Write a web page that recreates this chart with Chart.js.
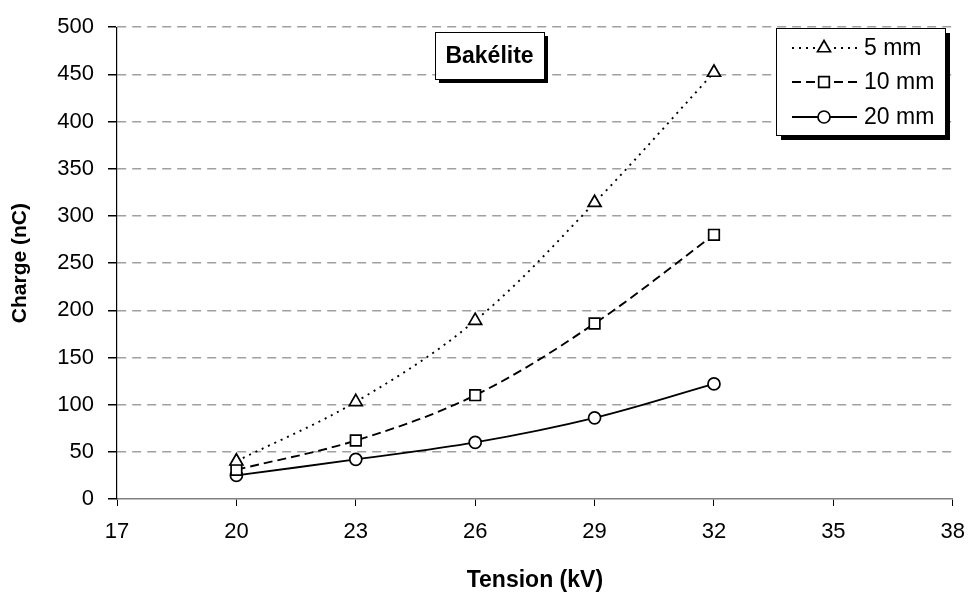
<!DOCTYPE html>
<html>
<head>
<meta charset="utf-8">
<script src="https://cdn.jsdelivr.net/npm/chart.js@4/dist/chart.umd.min.js"></script>
<style>
  html, body { margin: 0; padding: 0; background: #fff; }
  #wrap { width: 978px; height: 594px; }
</style>
</head>
<body>
<div id="wrap"><canvas id="lineChart" width="978" height="594"></canvas></div>
<script>
// data
var tension = [20, 23, 26, 29, 32];
var charge5 = [40, 103, 189, 314, 452];
var charge10 = [31, 62, 110, 186, 280];
var charge20 = [25, 42, 60, 86, 122];
var seriesNames = ["5 mm", "10 mm", "20 mm"];
var xTicks = [17, 20, 23, 26, 29, 32, 35, 38];
var yTicks = [0, 50, 100, 150, 200, 250, 300, 350, 400, 450, 500];

var FONT = "'Liberation Sans', Arial, sans-serif";

function pairs(ys) {
    return tension.map(function (x, i) { return { x: x, y: ys[i] }; });
}

function makeSet(label, ys, dash, style, radius) {
    return {
        label: label,
        data: pairs(ys),
        borderColor: "#000",
        borderWidth: 1.9,
        borderDash: dash,
        tension: 0.35,
        pointStyle: style,
        pointRadius: radius,
        pointHoverRadius: radius,
        pointBorderWidth: 1.7,
        pointBorderColor: "#000",
        pointBackgroundColor: "#fff",
        fill: false
    };
}

// boxes drawn on top: the "Bakélite" label and the legend
var boxesPlugin = {
    id: "boxes",
    afterDraw: function (chart) {
        var ctx = chart.ctx;
        ctx.save();

        function shadowBox(x1, y1, x2, y2, off) {
            ctx.fillStyle = "#000";
            ctx.fillRect(x1 + off, y1 + off, x2 - x1, y2 - y1);
            ctx.fillStyle = "#fff";
            ctx.fillRect(x1, y1, x2 - x1, y2 - y1);
            ctx.lineWidth = 1;
            ctx.strokeStyle = "#000";
            ctx.strokeRect(x1 + 0.5, y1 + 0.5, x2 - x1, y2 - y1);
        }

        // title box
        shadowBox(435, 32, 544, 79, 4);
        ctx.fillStyle = "#000";
        ctx.font = "bold 23px " + FONT;
        ctx.textAlign = "center";
        ctx.textBaseline = "middle";
        ctx.fillText("Bakélite", 489.5, 57);

        // legend box
        shadowBox(776, 28, 945, 135, 5);
        var rows = [48, 82, 117];
        chart.data.datasets.forEach(function (ds, i) {
            var y = rows[i];
            ctx.strokeStyle = "#000";
            ctx.lineWidth = ds.borderWidth;
            ctx.setLineDash(ds.borderDash || []);
            ctx.beginPath();
            ctx.moveTo(792, y);
            ctx.lineTo(857, y);
            ctx.stroke();
            ctx.setLineDash([]);
            ctx.fillStyle = "#fff";
            ctx.lineWidth = ds.pointBorderWidth;
            Chart.helpers.drawPoint(ctx, {
                pointStyle: ds.pointStyle,
                radius: ds.pointRadius,
                borderWidth: ds.pointBorderWidth,
                rotation: 0
            }, 824, y);
            ctx.fillStyle = "#000";
            ctx.font = "23px " + FONT;
            ctx.textAlign = "left";
            ctx.textBaseline = "middle";
            ctx.fillText(seriesNames[i], 864, y + 1);
        });
        ctx.restore();
    }
};

window.onload = function () {
    var ctx = document.getElementById("lineChart").getContext("2d");
    var myChart = new Chart(ctx, {
        type: "line",
        data: {
            datasets: [
                makeSet(seriesNames[0], charge5, [2, 5], "triangle", 7.5),
                makeSet(seriesNames[1], charge10, [9, 5], "rect", 7.5),
                makeSet(seriesNames[2], charge20, [], "circle", 6)
            ]
        },
        options: {
            responsive: false,
            animation: false,
            layout: { padding: { top: 22, right: 17, bottom: 0, left: 0 } },
            plugins: {
                legend: { display: false },
                tooltip: { enabled: false }
            },
            scales: {
                x: {
                    type: "linear",
                    min: 17,
                    max: 38,
                    afterBuildTicks: function (axis) {
                        axis.ticks = xTicks.map(function (v) { return { value: v }; });
                    },
                    afterFit: function (axis) { axis.height = 95; },
                    grid: {
                        drawOnChartArea: false,
                        tickColor: "#000",
                        tickLength: 7,
                        color: "#000"
                    },
                    border: { color: "#808080", width: 1.5 },
                    ticks: {
                        color: "#000",
                        padding: 13,
                        maxRotation: 0,
                        font: { family: FONT, size: 22 }
                    },
                    title: {
                        display: true,
                        text: "Tension (kV)",
                        color: "#000",
                        padding: { top: 0, bottom: 0 },
                        font: { family: FONT, size: 23, weight: "bold" }
                    }
                },
                y: {
                    min: 0,
                    max: 500,
                    afterBuildTicks: function (axis) {
                        axis.ticks = yTicks.map(function (v) { return { value: v }; });
                    },
                    afterFit: function (axis) { axis.width = 117; },
                    grid: {
                        color: function (c) { return c.tick && c.tick.value === 0 ? "rgba(0,0,0,0)" : "#a0a0a0"; },
                        lineWidth: 1.5,
                        tickColor: "#000",
                        tickLength: 9
                    },
                    border: { color: "#000", width: 1.2, dash: [9, 6] },
                    ticks: {
                        color: "#000",
                        padding: 14,
                        font: { family: FONT, size: 22 }
                    },
                    title: {
                        display: true,
                        text: "Charge (nC)",
                        color: "#000",
                        padding: { top: 8, bottom: 0 },
                        font: { family: FONT, size: 21, weight: "bold" }
                    }
                }
            }
        },
        plugins: [boxesPlugin]
    });
};
</script>
</body>
</html>
